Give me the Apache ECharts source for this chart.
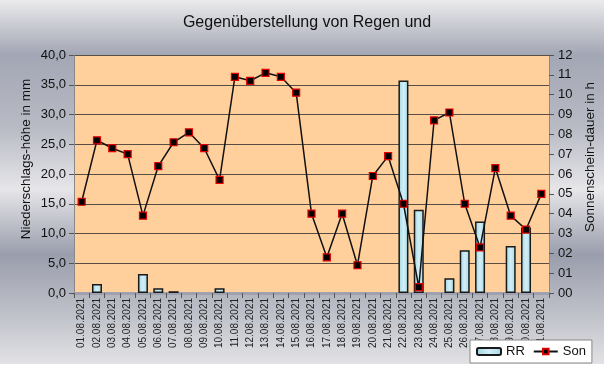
<!DOCTYPE html>
<html>
<head>
<meta charset="utf-8">
<script src="https://cdn.jsdelivr.net/npm/echarts@6/dist/echarts.min.js"></script>
<style>
html,body{margin:0;padding:0;background:#fff;}
#c{width:614px;height:389px;
background-color:#fff;
background-image:linear-gradient(to bottom,#ebebec 0%,#a3a6b4 15%,#b8bac4 35%,#e6e6e9 52%,#9a9dac 70%,#c3c5cc 88%,#e2e2e5 100%);
background-size:604px 364px;background-repeat:no-repeat;}
</style>
</head>
<body>
<div id="c"></div>
<script>
const titleText = 'Gegenüberstellung von Regen und';
const leftAxisName = 'Niederschlags-höhe in mm';
const rightAxisName = 'Sonnenschein-dauer in h';
const categories = ['01.08.2021','02.08.2021','03.08.2021','04.08.2021','05.08.2021','06.08.2021','07.08.2021','08.08.2021','09.08.2021','10.08.2021','11.08.2021','12.08.2021','13.08.2021','14.08.2021','15.08.2021','16.08.2021','17.08.2021','18.08.2021','19.08.2021','20.08.2021','21.08.2021','22.08.2021','23.08.2021','24.08.2021','25.08.2021','26.08.2021','27.08.2021','28.08.2021','29.08.2021','30.08.2021','31.08.2021'];
const rrValues = [null,1.5,null,null,3.2,0.8,0.3,null,null,0.8,null,null,null,null,null,null,null,null,null,null,null,35.7,14.0,null,2.5,7.2,12.0,null,7.9,11.0,null];
const sonValues = [4.6,7.7,7.3,7.0,3.9,6.4,7.6,8.1,7.3,5.7,10.9,10.7,11.1,10.9,10.1,4.0,1.8,4.0,1.4,5.9,6.9,4.5,0.3,8.7,9.1,4.5,2.3,6.3,3.9,3.2,5.0];
const seriesNames = ['RR','Son'];

const chart = echarts.init(document.getElementById('c'), null, {renderer:'canvas'});
const barFill = new echarts.graphic.LinearGradient(0,0,1,0,[
  {offset:0,color:'#9cd4e2'},{offset:0.5,color:'#d2eff6'},{offset:1,color:'#a3d9e6'}]);
const font = 'Liberation Sans, Arial, sans-serif';
chart.setOption({
  backgroundColor:'transparent',
  animation:false,
  textStyle:{fontFamily:font},
  title:{text:titleText,left:'center',top:10,textStyle:{fontSize:16,fontWeight:'normal',color:'#111',fontFamily:font}},
  grid:{left:74,right:65,top:55,bottom:96,show:true,backgroundColor:'#ffcf9c',borderWidth:0},
  legend:{data:seriesNames,left:470,top:340,backgroundColor:'#fff',borderColor:'#888',borderWidth:1,borderRadius:0,
    padding:[5,6],itemGap:8,itemWidth:24,itemHeight:7,textStyle:{fontSize:13,color:'#111',fontFamily:font}},
  xAxis:{type:'category',data:categories,boundaryGap:true,
    axisLine:{lineStyle:{color:'#9fa2ae',width:3}},
    axisTick:{show:true,interval:0,length:5,lineStyle:{color:'#555'}},
    axisLabel:{interval:0,rotate:90,fontSize:10,color:'#222',margin:5,fontFamily:font}},
  yAxis:[
    {type:'value',min:0,max:40,interval:5,position:'left',
     axisLine:{show:true,lineStyle:{color:'#888',width:1}},
     axisTick:{show:true,length:5,lineStyle:{color:'#555'}},
     axisLabel:{fontSize:13,color:'#111',margin:8,fontFamily:font,formatter:v=>v.toFixed(1).replace('.',',')},
     splitLine:{show:true,lineStyle:{color:'#5a4e44',width:1}}},
    {type:'value',min:0,max:12,interval:1,position:'right',
     axisLine:{show:true,lineStyle:{color:'#888',width:1}},
     axisTick:{show:true,length:5,lineStyle:{color:'#555'}},
     axisLabel:{fontSize:13,color:'#111',margin:9,fontFamily:font,formatter:v=>String(v).padStart(2,'0')},
     splitLine:{show:false}}
  ],
  series:[
    {name:'RR',type:'bar',yAxisIndex:0,data:rrValues,barWidth:10,
     itemStyle:{color:barFill,borderColor:'#1a1a1a',borderWidth:1.5}},
    {name:'Son',type:'line',yAxisIndex:1,data:sonValues,symbol:'rect',symbolSize:7,
     lineStyle:{color:'#111',width:1.5},
     itemStyle:{color:'#000',borderColor:'#e00000',borderWidth:1.2}}
  ],
  graphic:[
    {type:'text',x:26,y:159,rotation:Math.PI/2,style:{text:leftAxisName,fontSize:13.5,fill:'#111',fontFamily:font,textAlign:'center',textVerticalAlign:'middle'}},
    {type:'text',x:590,y:157,rotation:Math.PI/2,style:{text:rightAxisName,fontSize:13.5,fill:'#111',fontFamily:font,textAlign:'center',textVerticalAlign:'middle'}}
  ]
});
</script>
</body>
</html>
